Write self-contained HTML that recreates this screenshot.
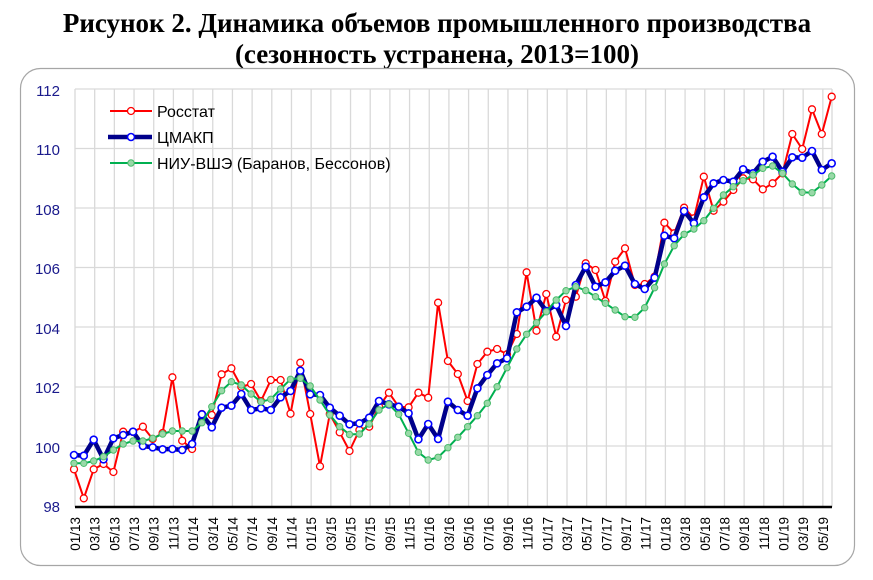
<!DOCTYPE html>
<html><head><meta charset="utf-8"><style>
body{margin:0;background:#fff;width:873px;height:575px;overflow:hidden}
</style></head><body>
<svg width="873" height="575" xmlns="http://www.w3.org/2000/svg" id="s">
<text x="437" y="32" text-anchor="middle" font-family="Liberation Serif" font-weight="bold" font-size="27">Рисунок 2. Динамика объемов промышленного производства</text>
<text x="437" y="63" text-anchor="middle" font-family="Liberation Serif" font-weight="bold" font-size="27">(сезонность устранена, 2013=100)</text>
<rect x="20.5" y="68.5" width="834" height="497" rx="20" fill="#fff" stroke="#a6a6a6" stroke-width="1.2"/>
<g id="grid" stroke="#d9d9d9" stroke-width="1.3"></g>
<g font-family="Liberation Sans" font-size="15" fill="#1a1a8c" text-anchor="end">
<text x="60" y="96">112</text><text x="60" y="155">110</text><text x="60" y="215">108</text><text x="60" y="274">106</text><text x="60" y="334">104</text><text x="60" y="393">102</text><text x="60" y="453">100</text><text x="60" y="512">98</text>
</g>
<line x1="75" y1="507" x2="832" y2="507" stroke="#000" stroke-width="2.5"/>
<g id="xl" font-family="Liberation Sans" font-size="13.5" fill="#000"></g>
<g id="series"></g>
<g font-family="Liberation Sans" font-size="16" fill="#000">
<line x1="110" y1="111" x2="152" y2="111" stroke="#ff0000" stroke-width="2"/><circle cx="131" cy="111" r="3.5" fill="#fff" stroke="#ff0000" stroke-width="1.3"/>
<text x="157" y="117">Росстат</text>
<line x1="108" y1="137" x2="152" y2="137" stroke="#00008b" stroke-width="4.5"/><circle cx="131" cy="137" r="3.5" fill="#fff" stroke="#0000ff" stroke-width="1.6"/>
<text x="157" y="143">ЦМАКП</text>
<line x1="110" y1="163" x2="152" y2="163" stroke="#00b050" stroke-width="2"/><circle cx="131" cy="163" r="3.2" fill="#99d9a8" stroke="#4cbb6c" stroke-width="1"/>
<text x="157" y="169">НИУ-ВШЭ (Баранов, Бессонов)</text>
</g>
</svg>
<script>
var NS="http://www.w3.org/2000/svg";
function el(t,a,p){var e=document.createElementNS(NS,t);for(var k in a)e.setAttribute(k,a[k]);p.appendChild(e);return e;}
var g=document.getElementById('grid');
[89,148.5,208,267.5,327,387,446].forEach(function(y){el('line',{x1:75,x2:832,y1:y,y2:y},g);});
for(var k=0;k<=38;k++){var x=75+19.68*k;el('line',{x1:x,x2:x,y1:89,y2:507},g);}
el('line',{x1:832,x2:832,y1:89,y2:507},g);
var xl=document.getElementById('xl');
for(var k=0;k<39;k++){var m=(k*2)%12+1,yr=13+Math.floor(k*2/12);var x=75+19.68*k+5;
var t=el('text',{x:0,y:0,transform:'translate('+x+',517) rotate(-90)','text-anchor':'end'},xl);t.textContent=(m<10?'0':'')+m+'/'+yr;}
var R=[469.3,498.3,469.3,464,472,431.7,432,426.7,439,433,377.3,440.7,449,414,415,374.3,368.3,386.7,384,401,380,380,413.7,362.7,414,466.3,414,432.3,451,430,
426.7,406.7,392.7,406.7,407.3,392.7,397.7,302.7,361,374,401,364,351.7,349,354.3,334,272.3,330.7,294,336.7,300,296.7,
263.3,270,301,261.7,248.3,285,284,276.7,222.7,233.3,207.7,218.3,176.7,210.7,201.7,190,178.3,179.3,189.3,183.3,173.3,134,149,109.3,134,96.7];
var B=[455,455.7,439.7,459.3,438.3,435,431.7,446,447.3,449.3,449,450,444,414.3,427.3,407.7,405.7,394,410,408.3,410,397.3,391,370.7,394.3,395,407.7,415.7,424.3,423.3,
417.7,401,404.3,406.7,413.3,439.3,424,439,401.7,410,415.7,388.3,375,363.3,358.3,312.3,306.7,297.7,311,305,326,285,
266.7,286.7,282.3,270.7,265.7,284,289,277.7,235.7,238.3,211,223.3,197.3,183.3,180,181.7,169.3,173.3,161.7,156.7,171.7,157.3,157.7,151,170,163.3];
var G=[463.3,463.3,461,456.7,450,444,441,441,438.3,434,431,431,431,422.7,406.7,390.7,381.7,385,394,401.7,399.3,389,379.3,378.3,386,400,415,426.7,434.5,434,
424,410,404.3,414.3,433.3,452.3,460,457.3,447.7,437.3,426.7,415.7,403.3,386.7,367.7,349,334.3,322.7,311.7,300,290.7,286.7,
290.5,296.7,303.3,310,316.7,317.3,307.7,287.7,264,245.7,234.3,229,220.7,208.3,195,186.7,180.7,175,168.3,166,173.3,184,192.3,192.7,185,176];
var sg=document.getElementById('series');
function ser(d,lc,lw,mf,ms,mw,r){var p=d.map(function(y,i){return (74+9.84*i).toFixed(1)+','+y;}).join(' ');
el('polyline',{points:p,fill:'none',stroke:lc,'stroke-width':lw,'stroke-linejoin':'round'},sg);
d.forEach(function(y,i){el('circle',{cx:(74+9.84*i).toFixed(1),cy:y,r:r,fill:mf,stroke:ms,'stroke-width':mw},sg);});}
ser(R,'#ff0000',2,'#fff','#ff0000',1.3,3.5);
ser(B,'#00008b',4.5,'#fff','#0000ff',1.6,3.5);
ser(G,'#00b050',2,'#99d9a8','#4cbb6c',1,3.2);
</script>
</body></html>
